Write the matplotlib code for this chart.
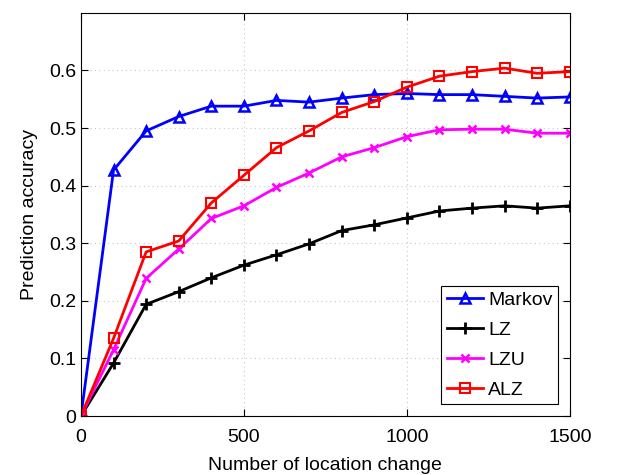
import matplotlib
matplotlib.use("Agg")
import matplotlib.pyplot as plt
import numpy as np

plt.rcParams['font.family'] = ['Liberation Sans', 'DejaVu Sans']

# number of location changes
x = [0, 100, 200, 300, 400, 500, 600, 700, 800, 900, 1000, 1100, 1200, 1300, 1400, 1500]

markov = [0, 0.427, 0.495, 0.520, 0.538, 0.538, 0.548, 0.545, 0.552, 0.558, 0.560, 0.558, 0.558, 0.555, 0.552, 0.554]
lz = [0, 0.092, 0.194, 0.216, 0.240, 0.262, 0.280, 0.299, 0.322, 0.332, 0.344, 0.356, 0.361, 0.365, 0.361, 0.365]
lzu = [0, 0.115, 0.239, 0.290, 0.343, 0.365, 0.397, 0.422, 0.450, 0.466, 0.485, 0.497, 0.498, 0.498, 0.491, 0.491]
alz = [0, 0.135, 0.285, 0.304, 0.370, 0.418, 0.466, 0.495, 0.527, 0.546, 0.571, 0.590, 0.598, 0.604, 0.595, 0.598]

xticks = [0, 500, 1000, 1500]
yticks = [0, 0.1, 0.2, 0.3, 0.4, 0.5, 0.6]

fig = plt.figure(figsize=(6.18, 4.75), dpi=100)
ax = fig.add_axes([0.131, 0.124, 0.791, 0.849])

ax.plot(x, markov, '-^', color='blue', lw=2, ms=7.5, mfc='none', mew=1.8, label='Markov')
ax.plot(x, lz, '-+', color='black', lw=2, ms=9, mew=2, label='LZ')
ax.plot(x, lzu, '-x', color='magenta', lw=2, ms=5.5, mew=1.8, label='LZU')
ax.plot(x, alz, '-s', color='red', lw=2, ms=6.5, mfc='none', mew=1.5, label='ALZ')

ax.set_xlim(0, 1500)
ax.set_ylim(0, 0.7)
ax.set_xticks(xticks)
ax.set_yticks(yticks)
ax.set_yticklabels(['0', '0.1', '0.2', '0.3', '0.4', '0.5', '0.6'])
ax.tick_params(direction='in', top=True, right=True, labelsize=14, length=5)
ax.tick_params(axis='x', pad=9)
ax.grid(True, linestyle=(0, (1, 3)), color='#c8c8c8', linewidth=0.8)

ax.set_xlabel('Number of location change', fontsize=14, labelpad=8)
ax.set_ylabel('Prediction accuracy', fontsize=14, labelpad=8)

leg = ax.legend(loc='lower right', fontsize=14, fancybox=False, edgecolor='black',
                framealpha=1, handlelength=1.85, handletextpad=0.25, labelspacing=0.63,
                borderpad=0.3, borderaxespad=0.6)
leg.get_frame().set_linewidth(0.8)

fig.savefig('out.png', dpi=100)
